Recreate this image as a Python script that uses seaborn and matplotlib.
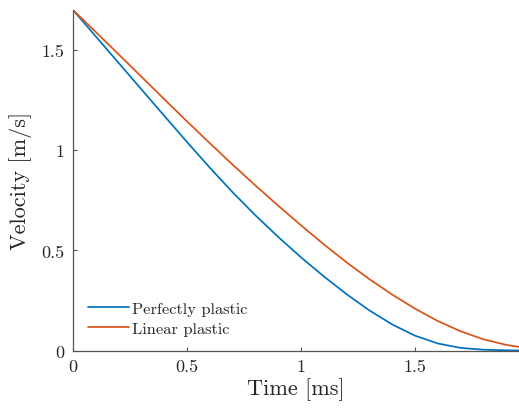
import numpy as np
import pandas as pd
import matplotlib
matplotlib.use('Agg')
import matplotlib.pyplot as plt
import seaborn as sns
from matplotlib.ticker import FormatStrFormatter

# values
time_ms = [0.0, 0.1, 0.2, 0.3, 0.4, 0.5, 0.6, 0.7, 0.8, 0.9, 1.0,
           1.1, 1.2, 1.3, 1.4, 1.5, 1.6, 1.7, 1.8, 1.9, 1.956]
vel_perfect = [1.700, 1.568, 1.436, 1.304, 1.172, 1.041, 0.913, 0.790, 0.675, 0.567, 0.465,
               0.370, 0.281, 0.200, 0.130, 0.074, 0.035, 0.013, 0.004, 0.001, 0.0]
vel_linear = [1.700, 1.590, 1.479, 1.367, 1.255, 1.144, 1.035, 0.928, 0.824, 0.723, 0.625,
              0.530, 0.440, 0.356, 0.279, 0.209, 0.147, 0.096, 0.056, 0.028, 0.018]
labels = ['Perfectly plastic', 'Linear plastic']

df = pd.concat([
    pd.DataFrame({'t': time_ms, 'v': vel_perfect, 'model': labels[0]}),
    pd.DataFrame({'t': time_ms, 'v': vel_linear, 'model': labels[1]}),
])

sns.set_style('ticks')
plt.rcParams['font.family'] = ['cmr10', 'DejaVu Serif']
plt.rcParams['axes.formatter.use_mathtext'] = True

fig = plt.figure(figsize=(5.19, 4.14), dpi=100)
ax = fig.add_axes([73 / 519, 1 - 351.5 / 414, (519 - 73) / 519, (351.5 - 11) / 414])

sns.lineplot(data=df, x='t', y='v', hue='model', palette=['#0072BD', '#D95319'],
             linewidth=1.25, ax=ax)

ax.set_xlim(0, 1.956)
ax.set_ylim(0, 1.7)
ax.set_xticks([0, 0.5, 1, 1.5])
ax.set_yticks([0, 0.5, 1, 1.5])
ax.xaxis.set_major_formatter(FormatStrFormatter('%g'))
ax.yaxis.set_major_formatter(FormatStrFormatter('%g'))
ax.tick_params(direction='in', length=3, width=0.8, color='#555555',
               labelsize=13, labelcolor='#262626', pad=6)
for s in ['top', 'right']:
    ax.spines[s].set_visible(False)
for s in ['left', 'bottom']:
    ax.spines[s].set_color('#555555')
    ax.spines[s].set_linewidth(0.9)

ax.set_xlabel('Time [ms]', fontsize=16, color='#262626', labelpad=2)
ax.set_ylabel('Velocity [m/s]', fontsize=16, color='#262626', labelpad=7)

leg = ax.legend(loc='lower left', frameon=False, fontsize=11.8, handlelength=2.5,
                handletextpad=0.2, borderaxespad=0.5, labelspacing=0.32)
for t in leg.get_texts():
    t.set_color('#262626')

fig.savefig('out.png', dpi=100)
